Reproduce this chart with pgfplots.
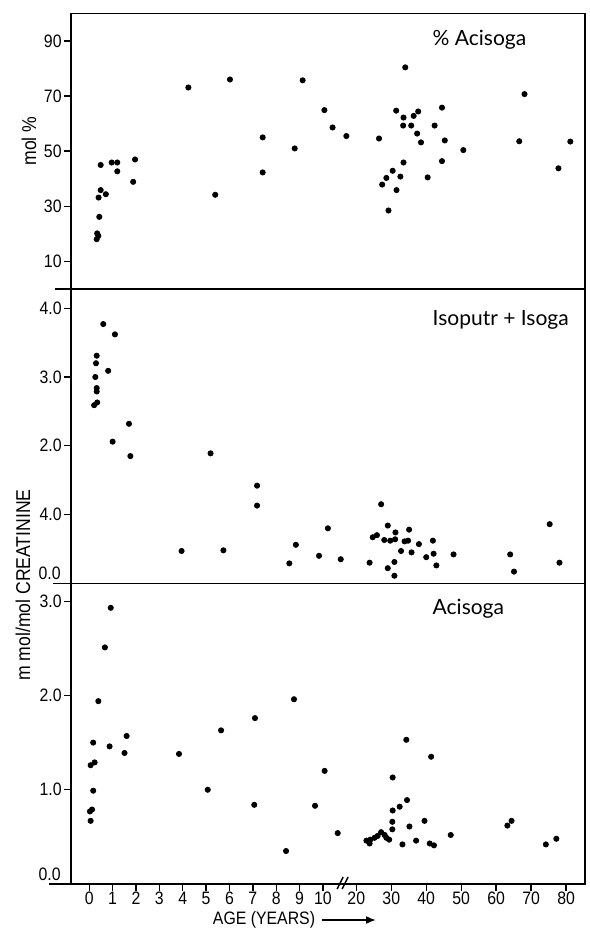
\documentclass[border=0pt]{standalone}
\usepackage{fontspec}
\setmainfont{Liberation Sans}[FakeStretch=0.88]
\newfontfamily\titlefont{Lato}
\usepackage{pgfplots}
\pgfplotsset{compat=1.18}
\usetikzlibrary{arrows.meta}

% age axis: linear 0..10 years, break, then 20..80 in decades
\pgfplotsset{
  panel/.style={
    scale only axis, width=257pt,
    xmin=-0.78, xmax=85.4,
    x coord trafo/.code={\pgfmathparse{(##1<=13)?##1:11.425+0.1496*(##1-20)}},
    x coord inv trafo/.code={\pgfmathparse{(##1<=10.9)?##1:20+(##1-11.425)/0.1496}},
    axis line style={line width=0.7pt},
    every tick/.style={black, line width=0.7pt},
    tick align=outside, major tick length=3.5pt,
    ytick pos=left, xtick pos=bottom,
    tick label style={font=\fontsize{9}{10}\selectfont},
    yticklabel style={inner sep=1pt},
    /pgf/number format/assume math mode=true,
    clip=false,
  },
  dots/.style={only marks, mark=*, mark size=1.3pt, black},
}

\pgfplotstableread{
age val
0.32 18.1
0.34 20.2
0.39 19.3
0.43 26.2
0.40 33.2
0.49 35.9
0.49 45.0
0.71 34.4
0.96 45.9
1.20 45.9
1.20 42.7
1.88 38.9
1.96 47.0
4.24 73.1
5.39 34.2
6.02 76.0
7.42 55.0
7.42 42.3
8.79 51.0
9.13 75.7
10.06 64.9
10.41 58.6
11.0 55.5
26.5 54.6
27.4 37.9
28.6 40.3
29.2 28.5
30.4 42.9
31.4 64.7
31.5 35.9
32.6 40.8
33.5 45.9
33.5 62.2
33.4 59.3
34.0 80.4
35.7 59.3
36.4 62.8
37.7 64.4
37.4 56.4
38.5 53.2
40.4 40.5
42.4 59.3
44.5 65.8
44.5 46.4
45.3 53.9
50.6 50.4
66.6 53.6
68.1 70.7
77.8 43.8
81.2 53.5
}\pctacisoga

\pgfplotstableread{
age val
0.60 3.77
1.10 3.62
0.32 3.31
0.29 3.20
0.26 3.00
0.81 3.09
0.32 2.84
0.32 2.79
0.34 2.63
0.21 2.59
1.70 2.32
1.00 2.06
1.76 1.85
5.19 1.89
7.18 1.42
7.18 1.13
3.95 0.47
5.74 0.48
8.84 0.56
8.56 0.29
9.83 0.40
10.21 0.80
10.76 0.35
23.8 0.30
24.7 0.67
25.9 0.70
27.1 1.15
28.0 0.63
29.0 0.84
29.7 0.62
31.1 0.64
31.2 0.74
29.0 0.22
30.9 0.31
30.9 0.11
32.8 0.47
33.8 0.61
34.8 0.62
35.1 0.78
35.8 0.45
37.9 0.57
40.0 0.38
41.9 0.62
42.1 0.43
42.9 0.26
47.8 0.42
64.0 0.42
65.1 0.17
75.3 0.86
78.1 0.30
}\isoputr

\pgfplotstableread{
age val
0.92 2.93
0.67 2.51
0.39 1.94
0.17 1.50
0.06 1.26
0.23 1.29
0.17 0.99
0.12 0.79
0.03 0.77
0.06 0.67
0.87 1.46
1.51 1.39
1.60 1.57
3.84 1.38
5.07 1.00
5.64 1.63
7.09 1.76
7.06 0.84
8.76 1.96
8.42 0.35
9.66 0.83
10.07 1.20
10.63 0.54
22.9 0.46
23.8 0.43
24.0 0.47
25.2 0.49
26.1 0.51
27.1 0.55
28.1 0.52
28.6 0.49
29.4 0.47
30.3 0.58
30.3 0.66
30.4 0.78
30.4 1.13
32.4 0.82
33.2 0.42
34.3 1.53
34.5 0.89
35.2 0.61
37.1 0.46
39.5 0.67
41.0 0.43
41.4 1.35
42.2 0.41
47.0 0.52
63.2 0.62
64.4 0.67
74.2 0.42
77.2 0.48
}\acisoga

\begin{document}
\begin{tikzpicture}
\path[use as bounding box] (0,0) rectangle (294.5pt,-465.5pt);

% top panel
\begin{axis}[panel, at={(35.5pt,-6.65pt)}, anchor=north west,
  height=137.9pt, ymin=0, ymax=100,
  xtick=\empty, ytick={10,30,50,70,90}]
\addplot[dots] table[x=age, y=val] {\pctacisoga};
\draw[line width=0.7pt] (rel axis cs:0,0) -- ++(-17pt,0);
\node[anchor=west, inner sep=0pt, font=\titlefont\fontsize{10.5}{12}\selectfont]
  at ([yshift=-13.3pt]rel axis cs:0.703,1) {\% Acisoga};
\end{axis}

% middle panel
\begin{axis}[panel, at={(35.5pt,-144.5pt)}, anchor=north west,
  height=147.15pt, ymin=0, ymax=4.28,
  xtick=\empty, ytick={1,2,3,4}, yticklabels={4.0,2.0,3.0,4.0}]
\addplot[dots] table[x=age, y=val] {\isoputr};
\draw[line width=0.7pt] (rel axis cs:0,0) -- ++(-18pt,0);
\node[anchor=south east, inner sep=0pt, font=\fontsize{9}{10}\selectfont]
  at ([xshift=-5pt,yshift=1.5pt]rel axis cs:0,0) {0.0};
\node[anchor=west, inner sep=0pt, font=\titlefont\fontsize{10.5}{12}\selectfont]
  at ([yshift=-15.5pt]rel axis cs:0.703,1) {Isoputr + Isoga};
\end{axis}

% bottom panel
\begin{axis}[panel, at={(35.5pt,-291.65pt)}, anchor=north west,
  height=150.35pt, ymin=0, ymax=3.19,
  ytick={1,2,3}, yticklabels={1.0,2.0,3.0},
  xtick={0,1,2,3,4,5,6,7,8,9,10,20,30,40,50,60,70,80},
  xticklabels={0,1,2,3,4,5,6,7,8,9,10,20,30,40,50,60,70,80},
  major tick length=3.5pt,
  xticklabel style={inner sep=0.5pt}]
\addplot[dots] table[x=age, y=val] {\acisoga};
\draw[line width=0.7pt] (rel axis cs:0,0) -- ++(-20pt,0);
\node[anchor=south east, inner sep=0pt, font=\fontsize{9}{10}\selectfont]
  at ([xshift=-5pt,yshift=1.5pt]rel axis cs:0,0) {0.0};
\node[anchor=west, inner sep=0pt, font=\titlefont\fontsize{10.5}{12}\selectfont]
  at ([yshift=-12.5pt]rel axis cs:0.703,1) {Acisoga};
% axis break
\draw[line width=0.7pt] ([xshift=-3pt,yshift=-2.5pt]axis cs:10.86,0) -- ++(3pt,6pt);
\draw[line width=0.7pt] ([xshift=-0.5pt,yshift=-2.5pt]axis cs:10.86,0) -- ++(3pt,6pt);
\end{axis}

% axis titles
\node[rotate=90, font=\fontsize{10}{12}\selectfont] at (14.5pt,-70.5pt) {mol \%};
\node[rotate=90, font=\fontsize{10}{12}\selectfont] at (11.5pt,-292.5pt) {m mol/mol CREATININE};
\node[font=\fontsize{9}{10}\selectfont, inner sep=1pt] at (132pt,-460pt) {AGE (YEARS)};
\draw[line width=0.8pt, -{Latex[length=5pt,width=4pt]}] (161pt,-460pt) -- (188pt,-460pt);
\end{tikzpicture}
\end{document}
